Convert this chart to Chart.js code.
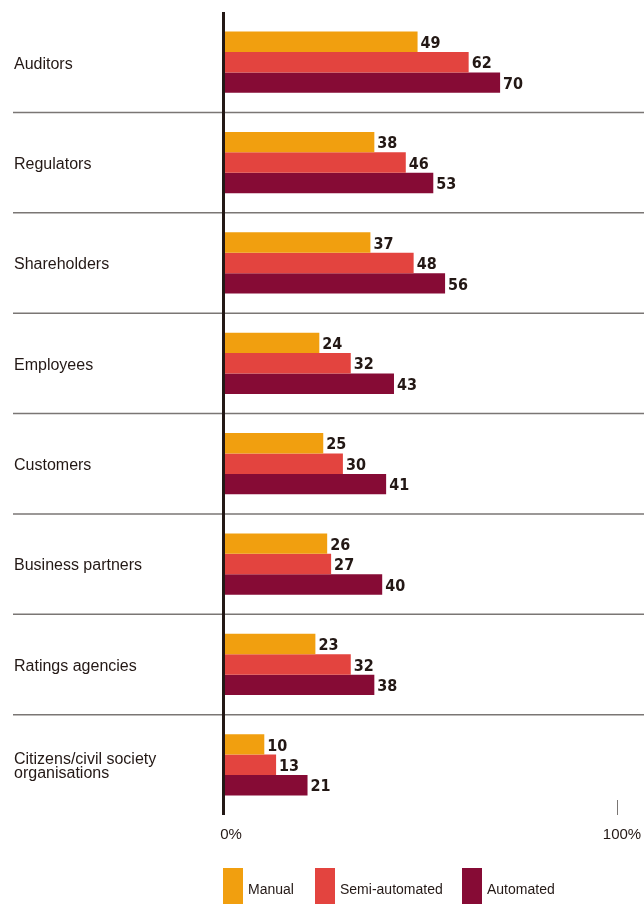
<!DOCTYPE html>
<html lang="en">
<head>
    <meta charset="UTF-8">
    <title>Stakeholders by automation level</title>
    <script src="https://cdn.jsdelivr.net/npm/chart.js"></script>
    <style>
        html, body { margin: 0; padding: 0; background: #fff; }
        #wrap { width: 644px; height: 904px; position: relative; }
    </style>
</head>
<body>
    <div id="wrap"><canvas id="chart"></canvas></div>

    <script>
        const categories = [
            ["Auditors"], ["Regulators"], ["Shareholders"], ["Employees"], ["Customers"],
            ["Business partners"], ["Ratings agencies"], ["Citizens/civil society", "organisations"]
        ];
        const manual = [49, 38, 37, 24, 25, 26, 23, 10];
        const semiAutomated = [62, 46, 48, 32, 30, 27, 32, 13];
        const automated = [70, 53, 56, 43, 41, 40, 38, 21];
        const seriesNames = ["Manual", "Semi-automated", "Automated"];
        const tickLabels = ["0%", "100%"];

        const colors = ["#f19f0f", "#e3443f", "#860b35"];
        const textFont = "'Liberation Sans', Arial, sans-serif";
        const valueFont = "'DejaVu Sans', sans-serif";

        const decorations = {
            id: "decorations",
            beforeDatasetsDraw(chart) {
                const ctx = chart.ctx;
                const y = chart.scales.y;
                ctx.save();
                // separators between categories
                ctx.strokeStyle = "#7a7674";
                ctx.lineWidth = 1.5;
                for (let i = 1; i < categories.length; i++) {
                    const yy = (y.getPixelForValue(i - 1) + y.getPixelForValue(i)) / 2;
                    ctx.beginPath();
                    ctx.moveTo(13, yy);
                    ctx.lineTo(644, yy);
                    ctx.stroke();
                }
                // category labels
                ctx.fillStyle = "#231815";
                ctx.font = "16px " + textFont;
                ctx.textBaseline = "middle";
                ctx.textAlign = "left";
                categories.forEach((lines, i) => {
                    const cy = y.getPixelForValue(i) + 2;
                    const lh = 14;
                    lines.forEach((t, k) => {
                        ctx.fillText(t, 14, cy + (k - (lines.length - 1) / 2) * lh);
                    });
                });
                ctx.restore();
            },
            afterDatasetsDraw(chart) {
                const ctx = chart.ctx;
                const x = chart.scales.x;
                const area = chart.chartArea;
                ctx.save();
                // zero axis
                ctx.strokeStyle = "#231815";
                ctx.lineWidth = 3;
                ctx.beginPath();
                ctx.moveTo(x.getPixelForValue(0) - 1.5, area.top);
                ctx.lineTo(x.getPixelForValue(0) - 1.5, area.bottom);
                ctx.stroke();
                // 100% tick
                ctx.strokeStyle = "#7a7674";
                ctx.lineWidth = 1;
                ctx.beginPath();
                ctx.moveTo(x.getPixelForValue(100) - 0.5, area.bottom - 15);
                ctx.lineTo(x.getPixelForValue(100) - 0.5, area.bottom);
                ctx.stroke();
                // tick labels
                ctx.fillStyle = "#231815";
                ctx.font = "15px " + textFont;
                ctx.textBaseline = "middle";
                ctx.textAlign = "center";
                ctx.fillText(tickLabels[0], x.getPixelForValue(0) + 6, area.bottom + 20);
                ctx.fillText(tickLabels[1], x.getPixelForValue(100) + 4, area.bottom + 20);
                // value labels
                ctx.font = "bold 16px " + valueFont;
                if ("fontStretch" in ctx) ctx.fontStretch = "condensed";
                ctx.textAlign = "left";
                chart.data.datasets.forEach((ds, di) => {
                    chart.getDatasetMeta(di).data.forEach((bar, i) => {
                        ctx.fillText(String(ds.data[i]), bar.x + 3, bar.y + 2);
                    });
                });
                if ("fontStretch" in ctx) ctx.fontStretch = "normal";
                // legend
                const legendX = [223, 315, 462];
                ctx.font = "14px " + textFont;
                seriesNames.forEach((name, i) => {
                    ctx.fillStyle = colors[i];
                    ctx.fillRect(legendX[i], 868, 20, 40);
                    ctx.fillStyle = "#231815";
                    ctx.fillText(name, legendX[i] + 25, 890);
                });
                ctx.restore();
            }
        };

        new Chart(document.getElementById("chart"), {
            type: "bar",
            data: {
                labels: categories,
                datasets: [
                    { label: seriesNames[0], data: manual, backgroundColor: colors[0] },
                    { label: seriesNames[1], data: semiAutomated, backgroundColor: colors[1] },
                    { label: seriesNames[2], data: automated, backgroundColor: colors[2] }
                ]
            },
            options: {
                indexAxis: "y",
                responsive: true,
                maintainAspectRatio: false,
                animation: false,
                layout: { padding: { left: 225, right: 26, top: 12, bottom: 89 } },
                datasets: { bar: { categoryPercentage: 0.61, barPercentage: 1, borderWidth: 0 } },
                scales: {
                    x: { display: false, min: 0, max: 100 },
                    y: { display: false }
                },
                plugins: { legend: { display: false }, tooltip: { enabled: false } }
            },
            plugins: [decorations]
        });
    </script>
</body>
</html>
